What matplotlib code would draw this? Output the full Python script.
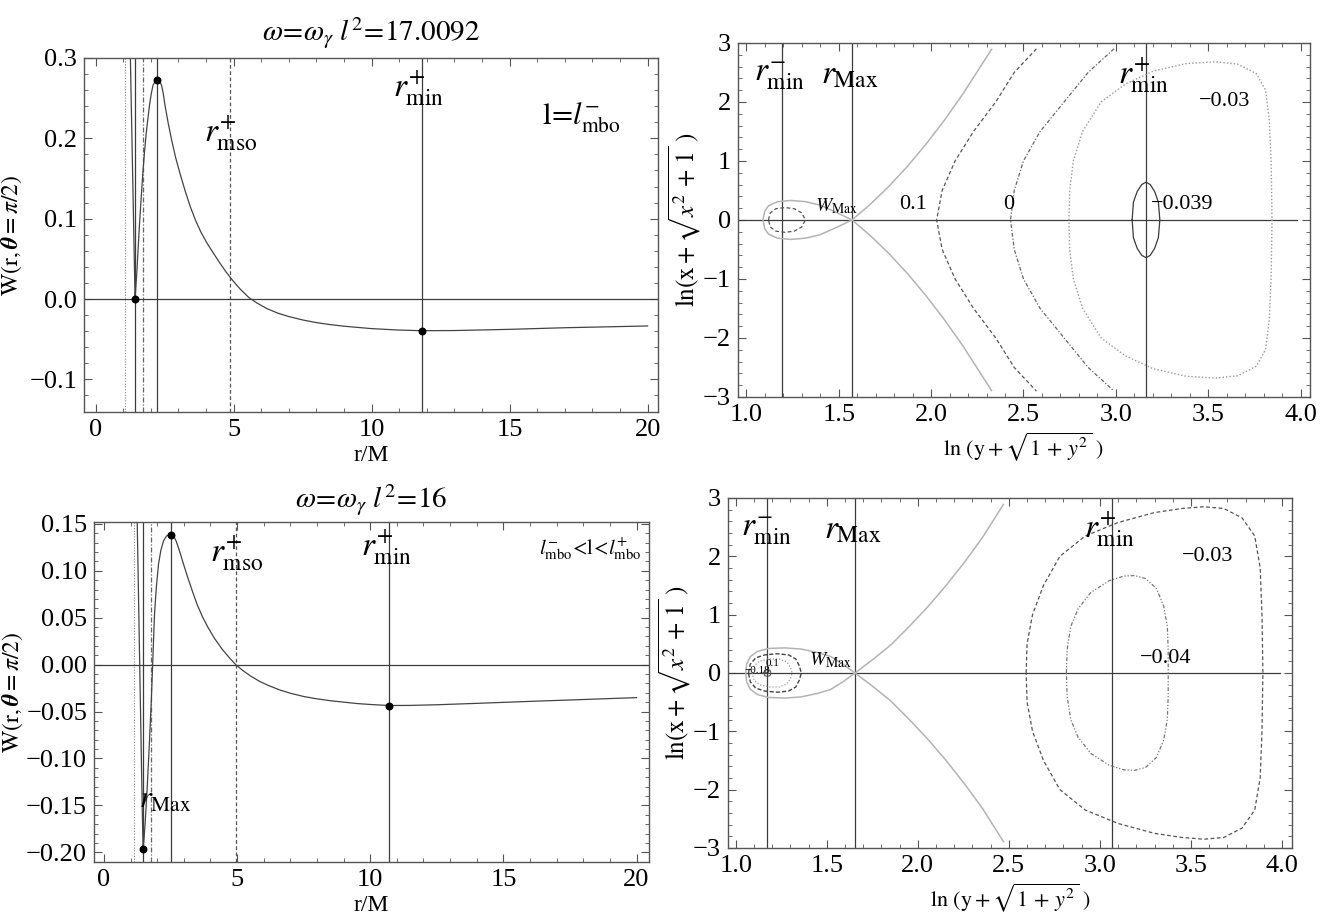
import numpy as np
import matplotlib.pyplot as plt
from matplotlib.ticker import MultipleLocator

plt.rcParams['font.family'] = ['Liberation Serif', 'DejaVu Serif']
plt.rcParams['mathtext.fontset'] = 'stix'

# ---------------- W(r) on the equatorial plane, l^2 = 17.0092 ----------------
r_a = [1.26, 1.29, 1.32, 1.35, 1.38, 1.41, 1.43, 1.46, 1.49, 1.54, 1.59, 1.65,
       1.71, 1.77, 1.83, 1.90, 1.96, 2.02, 2.08, 2.16, 2.24, 2.32, 2.39, 2.45,
       2.51, 2.63, 2.76, 2.90, 3.06, 3.25, 3.43, 3.62, 3.82, 4.03, 4.25, 4.48,
       4.72, 4.97, 5.25, 5.55, 5.85, 6.2, 6.6, 7.0, 7.5, 8.0, 8.5, 9.0, 10.0,
       11.0, 11.83, 13.0, 15.0, 17.0, 20.0]
W_a = [0.300, 0.247, 0.194, 0.141, 0.088, 0.035, 0.0, 0.016, 0.031, 0.062,
       0.093, 0.125, 0.156, 0.182, 0.205, 0.226, 0.243, 0.256, 0.266, 0.271,
       0.273, 0.271, 0.266, 0.256, 0.242, 0.219, 0.197, 0.176, 0.156, 0.134,
       0.115, 0.098, 0.083, 0.070, 0.058, 0.046, 0.034, 0.023, 0.012, 0.002,
       -0.005, -0.0118, -0.0175, -0.0218, -0.0260, -0.0293, -0.0318, -0.0338,
       -0.0368, -0.0386, -0.0394, -0.0392, -0.0377, -0.0357, -0.0335]
# special radii: dotted, r_min^-, dot-dashed, r_Max, r_mso^+, r_min^+
rv_a = [1.07, 1.43, 1.70, 2.24, 4.88, 11.83]
dots_a_r = [1.43, 2.24, 11.83]
dots_a_W = [0.0, 0.273, -0.0394]

# ---------------- W(r), l^2 = 16 ----------------
r_b = [1.25, 1.30, 1.35, 1.40, 1.44, 1.47, 1.50, 1.55, 1.62, 1.70, 1.78, 1.83,
       1.90, 1.97, 2.05, 2.14, 2.24, 2.35, 2.45, 2.53, 2.62, 2.72, 2.85, 3.0,
       3.1, 3.3, 3.5, 3.7, 3.9, 4.15, 4.45, 4.75, 4.95, 5.2, 5.5, 5.85, 6.2,
       6.6, 7.0, 7.5, 8.0, 8.5, 9.0, 9.5, 10.0, 10.7, 11.5, 12.5, 14.0, 16.0,
       18.0, 20.0]
W_b = [0.152, 0.072, -0.010, -0.090, -0.155, -0.197, -0.188, -0.168, -0.134,
       -0.088, -0.038, 0.0, 0.054, 0.083, 0.107, 0.122, 0.132, 0.137, 0.1385,
       0.1385, 0.137, 0.131, 0.120, 0.106, 0.097, 0.080, 0.064, 0.051, 0.040,
       0.028, 0.016, 0.006, 0.0, -0.006, -0.012, -0.018, -0.0225, -0.027,
       -0.0305, -0.034, -0.0365, -0.0385, -0.0400, -0.0415, -0.0425, -0.0436,
       -0.0435, -0.0428, -0.0413, -0.0392, -0.0372, -0.0352]
rv_b = [1.12, 1.47, 1.77, 2.53, 4.97, 10.7]
dots_b_r = [1.47, 2.53, 10.7]
dots_b_W = [-0.197, 0.1385, -0.0436]

# ---------------- contour lines, top right (upper halves, mirrored in y) ----------------
tr_lines = [1.195, 1.572, 3.163]
tr_loop_x = [1.572, 1.50, 1.40, 1.32, 1.24, 1.17, 1.12, 1.10, 1.09]
tr_loop_y = [0.0, 0.11, 0.25, 0.31, 0.33, 0.31, 0.24, 0.15, 0.0]
tr_sep_x = [1.572, 1.672, 1.772, 1.872, 1.972, 2.072, 2.172, 2.327]
tr_sep_y = [0.0, 0.268, 0.570, 0.908, 1.282, 1.69, 2.134, 2.89]
tr_in_x = [1.12, 1.13, 1.16, 1.21, 1.26, 1.30, 1.32]
tr_in_y = [0.0, 0.12, 0.19, 0.21, 0.19, 0.12, 0.0]
tr_p01_x = [2.03, 2.06, 2.13, 2.23, 2.35, 2.45, 2.57]
tr_p01_y = [0.0, 0.5, 1.0, 1.5, 2.0, 2.5, 2.9]
tr_zero_x = [2.43, 2.45, 2.50, 2.59, 2.72, 2.85, 2.99]
tr_zero_y = [0.0, 0.5, 1.0, 1.5, 2.0, 2.5, 2.9]
tr_m03_x = [2.746, 2.75, 2.77, 2.82, 2.92, 3.05, 3.20, 3.38, 3.54, 3.66, 3.76,
            3.81, 3.83, 3.84, 3.845]
tr_m03_y = [0.0, 0.5, 1.0, 1.5, 2.0, 2.3, 2.52, 2.65, 2.68, 2.64, 2.48, 2.2,
            1.7, 1.0, 0.0]
tr_m039_x = [3.088, 3.095, 3.115, 3.14, 3.163, 3.186, 3.21, 3.23, 3.238]
tr_m039_y = [0.0, 0.30, 0.48, 0.60, 0.64, 0.60, 0.48, 0.30, 0.0]

# ---------------- contour lines, bottom right ----------------
br_lines = [1.174, 1.655, 3.064]
br_loop_x = [1.655, 1.59, 1.52, 1.45, 1.36, 1.27, 1.18, 1.12, 1.08, 1.06, 1.055]
br_loop_y = [0.0, 0.15, 0.285, 0.35, 0.41, 0.43, 0.42, 0.37, 0.28, 0.15, 0.0]
br_sep_x = [1.655, 1.755, 1.855, 1.955, 2.055, 2.155, 2.255, 2.355, 2.47]
br_sep_y = [0.0, 0.236, 0.489, 0.804, 1.135, 1.499, 1.894, 2.321, 2.89]
br_p01_x = [1.07, 1.08, 1.11, 1.16, 1.23, 1.29, 1.33, 1.35, 1.36]
br_p01_y = [0.0, 0.15, 0.26, 0.31, 0.33, 0.31, 0.24, 0.12, 0.0]
br_zero_x = [1.09, 1.10, 1.13, 1.18, 1.24, 1.28, 1.30, 1.31]
br_zero_y = [0.0, 0.12, 0.20, 0.24, 0.24, 0.19, 0.10, 0.0]
br_m18_x = [1.155, 1.159, 1.174, 1.189, 1.193]
br_m18_y = [0.0, 0.045, 0.06, 0.045, 0.0]
br_m03_x = [2.595, 2.60, 2.63, 2.69, 2.78, 2.92, 3.10, 3.30, 3.45, 3.57, 3.68,
            3.78, 3.85, 3.88, 3.89, 3.895]
br_m03_y = [0.0, 0.5, 1.0, 1.5, 2.0, 2.35, 2.58, 2.75, 2.82, 2.85, 2.82, 2.66,
            2.35, 1.8, 1.0, 0.0]
br_m04_x = [2.816, 2.82, 2.84, 2.88, 2.95, 3.05, 3.13, 3.19, 3.25, 3.31, 3.35,
            3.37, 3.375, 3.375]
br_m04_y = [0.0, 0.4, 0.8, 1.1, 1.38, 1.58, 1.66, 1.67, 1.62, 1.45, 1.15, 0.8,
            0.4, 0.0]

DARK = '#3c3c3c'
GREY = '#b4b4b4'
TICK_FS = 19


def closed(x, y):
    x, y = np.asarray(x), np.asarray(y)
    return np.r_[x, x[::-1][1:]], np.r_[y, -y[::-1][1:]]


def open_branch(x, y):
    x, y = np.asarray(x), np.asarray(y)
    return np.r_[x[::-1], x[1:]], np.r_[y[::-1], -y[1:]]


def style(ax, xmaj, xmin, ymaj, ymin):
    ax.xaxis.set_major_locator(MultipleLocator(xmaj))
    ax.xaxis.set_minor_locator(MultipleLocator(xmin))
    ax.yaxis.set_major_locator(MultipleLocator(ymaj))
    ax.yaxis.set_minor_locator(MultipleLocator(ymin))
    ax.tick_params(which='both', direction='in', top=True, right=True,
                   color='#555555', labelsize=TICK_FS, pad=5)
    ax.tick_params(which='major', length=6, width=0.8)
    ax.tick_params(which='minor', length=3, width=0.6)
    for s in ax.spines.values():
        s.set_color('#555555')
        s.set_linewidth(1.0)


def w_panel(ax, r, W, rv, dr, dW):
    ax.axvline(rv[0], color='#888888', lw=0.8, ls=(0, (1, 1.5)))
    ax.axvline(rv[1], color=DARK, lw=0.9)
    ax.axvline(rv[2], color='#666666', lw=0.9, ls=(0, (4, 1.5, 1, 1.5)))
    ax.axvline(rv[3], color=DARK, lw=0.9)
    ax.axvline(rv[4], color='#555555', lw=0.9, ls=(0, (3, 2)))
    ax.axvline(rv[5], color=DARK, lw=0.9)
    ax.axhline(0, color=DARK, lw=0.9)
    ax.plot(r, W, color='#444444', lw=0.9)
    ax.scatter(dr, dW, s=22, color='black', zorder=5)
    ax.set_xlabel('r/M', fontsize=17, labelpad=3)
    ax.set_ylabel(r'$\mathrm{W(r,}\boldsymbol{\theta}\mathrm{=}\pi/2)$', fontsize=17)


def contour_panel(ax, vlines):
    for xv in vlines:
        ax.axvline(xv, color=DARK, lw=0.9)
    ax.set_xlabel(r'$\mathrm{ln}\ (\mathrm{y}+\sqrt{1\,+\,y^2}\ )$', fontsize=16,
                  labelpad=3)
    ax.set_ylabel(r'$\mathrm{ln(x}+\sqrt{x^2\,+\,1}\ )$', fontsize=18, labelpad=0)


fig = plt.figure(figsize=(13.23, 9.21), dpi=100)
ax1 = fig.add_axes([0.0635, 0.5527, 0.4339, 0.3844])
ax2 = fig.add_axes([0.5578, 0.5690, 0.4323, 0.3844])
ax3 = fig.add_axes([0.0711, 0.0641, 0.4195, 0.3692])
ax4 = fig.add_axes([0.5503, 0.0793, 0.4263, 0.3800])

# top left
w_panel(ax1, r_a, W_a, rv_a, dots_a_r, dots_a_W)
ax1.yaxis.set_label_coords(-0.105, 0.5)
ax1.set_xlim(-0.42, 20.38)
ax1.set_ylim(-0.1405, 0.3)
style(ax1, 5, 1, 0.1, 0.02)
ax1.set_title(r'$\omega\!=\!\omega_\gamma\ l^2\!=\!17.0092$', fontsize=21, pad=12)
ax1.text(4.9, 0.205, r'$r^{+}_{\mathrm{mso}}$', fontsize=24, ha='center', va='center')
ax1.text(11.7, 0.262, r'$r^{+}_{\mathrm{min}}$', fontsize=24, ha='center', va='center')
ax1.text(17.6, 0.225, r'$\mathrm{l}\!=\!l^{-}_{\mathrm{mbo}}$', fontsize=22,
         ha='center', va='center')

# bottom left
w_panel(ax3, r_b, W_b, rv_b, dots_b_r, dots_b_W)
ax3.yaxis.set_label_coords(-0.125, 0.5)
ax3.set_xlim(-0.37, 20.47)
ax3.set_ylim(-0.2103, 0.152)
style(ax3, 5, 1, 0.05, 0.01)
ax3.yaxis.set_major_formatter(plt.FuncFormatter(lambda v, p: f'{v:.2f}'.replace('-', '\u2212')))
ax3.set_title(r'$\omega\!=\!\omega_\gamma\ l^2\!=\!16$', fontsize=21, pad=10)
ax3.text(5.0, 0.118, r'$r^{+}_{\mathrm{mso}}$', fontsize=24, ha='center', va='center')
ax3.text(10.6, 0.124, r'$r^{+}_{\mathrm{min}}$', fontsize=24, ha='center', va='center')
ax3.text(20.2, 0.124, r'$l^{-}_{\mathrm{mbo}}\!<\!\mathrm{l}\!<\!l^{+}_{\mathrm{mbo}}$',
         fontsize=15, ha='right', va='center')
ax3.text(1.3, -0.145, r'$r_{\mathrm{Max}}$', fontsize=22, ha='left', va='center')

# top right
contour_panel(ax2, tr_lines)
ax2.plot([0.955, 3.98], [0, 0], color=DARK, lw=0.9)
ax2.plot(*closed(tr_loop_x, tr_loop_y), color=GREY, lw=1.1)
ax2.plot(*open_branch(tr_sep_x, tr_sep_y), color=GREY, lw=1.1)
ax2.plot(*closed(tr_in_x, tr_in_y), color='#555555', lw=0.9, ls=(0, (3, 2)))
ax2.plot(*open_branch(tr_p01_x, tr_p01_y), color='#555555', lw=0.9, ls=(0, (3, 2)))
ax2.plot(*open_branch(tr_zero_x, tr_zero_y), color='#666666', lw=0.9,
         ls=(0, (3, 1.5, 1, 1.5)))
ax2.plot(*closed(tr_m03_x, tr_m03_y), color='#999999', lw=1.0, ls=(0, (1, 1.5)))
ax2.plot(*closed(tr_m039_x, tr_m039_y), color=DARK, lw=0.9)
ax2.set_xlim(0.955, 4.05)
ax2.set_ylim(-3, 3)
style(ax2, 0.5, 0.1, 1, 0.2)
ax2.text(1.18, 2.45, r'$r^{-}_{\mathrm{min}}$', fontsize=24, ha='center', va='center')
ax2.text(1.56, 2.45, r'$r_{\mathrm{Max}}$', fontsize=24, ha='center', va='center')
ax2.text(3.15, 2.45, r'$r^{+}_{\mathrm{min}}$', fontsize=24, ha='center', va='center')
ax2.text(1.49, 0.24, r'$W_{\mathrm{Max}}$', fontsize=14, ha='center', va='center')
ax2.text(1.90, 0.26, '0.1', fontsize=16, ha='center', va='center')
ax2.text(2.42, 0.26, '0', fontsize=16, ha='center', va='center')
ax2.text(3.36, 0.26, '\u22120.039', fontsize=16, ha='center', va='center')
ax2.text(3.59, 2.0, '\u22120.03', fontsize=16, ha='center', va='center')

# bottom right
contour_panel(ax4, br_lines)
ax4.plot([0.958, 3.99], [0, 0], color=DARK, lw=0.9)
ax4.plot(*closed(br_loop_x, br_loop_y), color=GREY, lw=1.1)
ax4.plot(*open_branch(br_sep_x, br_sep_y), color=GREY, lw=1.1)
ax4.plot(*closed(br_p01_x, br_p01_y), color='#444444', lw=1.0, ls=(0, (3, 1.5)))
ax4.plot(*closed(br_zero_x, br_zero_y), color='#999999', lw=0.9, ls=(0, (1, 1.5)))
ax4.plot(*closed(br_m18_x, br_m18_y), color='#555555', lw=0.8)
ax4.plot(*closed(br_m03_x, br_m03_y), color='#555555', lw=0.9, ls=(0, (3, 2)))
ax4.plot(*closed(br_m04_x, br_m04_y), color='#777777', lw=0.9,
         ls=(0, (3, 1.5, 1, 1.5, 1, 1.5)))
ax4.set_xlim(0.958, 4.055)
ax4.set_ylim(-3, 3)
style(ax4, 0.5, 0.1, 1, 0.2)
ax4.text(1.17, 2.45, r'$r^{-}_{\mathrm{min}}$', fontsize=24, ha='center', va='center')
ax4.text(1.64, 2.45, r'$r_{\mathrm{Max}}$', fontsize=24, ha='center', va='center')
ax4.text(3.05, 2.45, r'$r^{+}_{\mathrm{min}}$', fontsize=24, ha='center', va='center')
ax4.text(1.52, 0.22, r'$W_{\mathrm{Max}}$', fontsize=14, ha='center', va='center')
ax4.text(1.12, 0.04, '\u22120.18', fontsize=8, ha='center', va='center')
ax4.text(1.20, 0.17, '0.1', fontsize=8, ha='center', va='center')
ax4.text(3.36, 0.25, '\u22120.04', fontsize=16, ha='center', va='center')
ax4.text(3.59, 2.0, '\u22120.03', fontsize=16, ha='center', va='center')

plt.savefig('out.png', dpi=100)
